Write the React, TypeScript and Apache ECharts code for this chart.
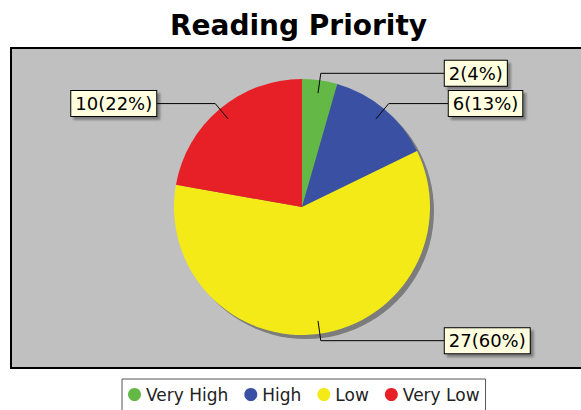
import React, { useEffect, useRef } from 'react';
import * as echarts from 'echarts';

const categories = ['Very High', 'High', 'Low', 'Very Low'];
const counts = [2, 6, 27, 10];
const sliceColors = ['#64B946', '#3A51A3', '#F4EA17', '#E71F26'];
// horizontal tail length of each label's leader line (style only)
const labelTail = [124, 60, 124, 59];

export default function App() {
  const ref = useRef<HTMLDivElement>(null);
  useEffect(() => {
    document.body.style.margin = '0';
    const chart = echarts.init(ref.current!, null, { renderer: 'svg' });
    const total = counts.reduce((a, b) => a + b, 0);
    const font = 'DejaVu Sans';
    const center = [302, 207];
    chart.setOption({
      animation: false,
      backgroundColor: '#ffffff',
      title: {
        text: 'Reading Priority',
        left: 170,
        top: 11,
        padding: 0,
        textStyle: { fontFamily: font, fontWeight: 'bold', fontSize: 28, color: '#000' },
      },
      legend: {
        data: categories,
        left: 122,
        top: 379,
        padding: [7, 6, 18, 6],
        itemGap: 16,
        itemWidth: 13,
        itemHeight: 13,
        icon: 'circle',
        borderColor: '#555',
        borderWidth: 1,
        backgroundColor: '#fff',
        textStyle: { fontFamily: font, fontSize: 17, color: '#222' },
      },
      graphic: [
        {
          type: 'rect',
          z: 0,
          shape: { x: 11, y: 48, width: 620, height: 320 },
          style: { fill: '#C0C0C0', stroke: '#000', lineWidth: 2 },
        },
      ],
      series: [
        {
          type: 'pie',
          name: 'shadow',
          z: 1,
          silent: true,
          center: [center[0] + 4, center[1] + 4],
          radius: 128,
          label: { show: false },
          labelLine: { show: false },
          emphasis: { disabled: true },
          itemStyle: { color: '#7c7c7c', borderWidth: 0 },
          data: [{ name: '__shadow', value: total }],
        },
        {
          type: 'pie',
          name: 'Reading Priority',
          z: 2,
          center,
          radius: 128,
          startAngle: 90,
          clockwise: true,
          label: { show: false },
          labelLine: { show: false },
          emphasis: { disabled: true },
          itemStyle: { borderWidth: 0 },
          data: categories.map((name, i) => ({
            name,
            value: counts[i],
            itemStyle: { color: sliceColors[i] },
          })),
        },
        {
          type: 'pie',
          name: 'labels',
          z: 3,
          silent: true,
          center,
          radius: 115,
          startAngle: 90,
          clockwise: true,
          emphasis: { disabled: true },
          itemStyle: { color: 'rgba(0,0,0,0)', borderWidth: 0 },
          label: {
            show: true,
            position: 'outside',
            alignTo: 'none',
            distanceToLabelLine: 0,
            fontFamily: font,
            fontSize: 18,
            lineHeight: 20,
            color: '#000',
            backgroundColor: '#FFFFE0',
            borderColor: '#000',
            borderWidth: 1,
            padding: [3, 4, 2, 4],
            shadowColor: 'rgba(0,0,0,0.35)',
            shadowOffsetX: 3,
            shadowOffsetY: 3,
            shadowBlur: 2,
            formatter: (p: any) => `${p.value}(${Math.round((p.value / total) * 100)}%)`,
          },
          labelLine: {
            show: true,
            length: 20,
            smooth: false,
            minTurnAngle: 0,
            lineStyle: { color: '#000', width: 1 },
          },
          data: categories.map((name, i) => ({
            name,
            value: counts[i],
            labelLine: { length2: labelTail[i] },
          })),
        },
      ],
    });
    return () => chart.dispose();
  }, []);
  return (
    <div
      ref={ref}
      style={{ position: 'absolute', left: 0, top: 0, width: 581, height: 410 }}
    />
  );
}
